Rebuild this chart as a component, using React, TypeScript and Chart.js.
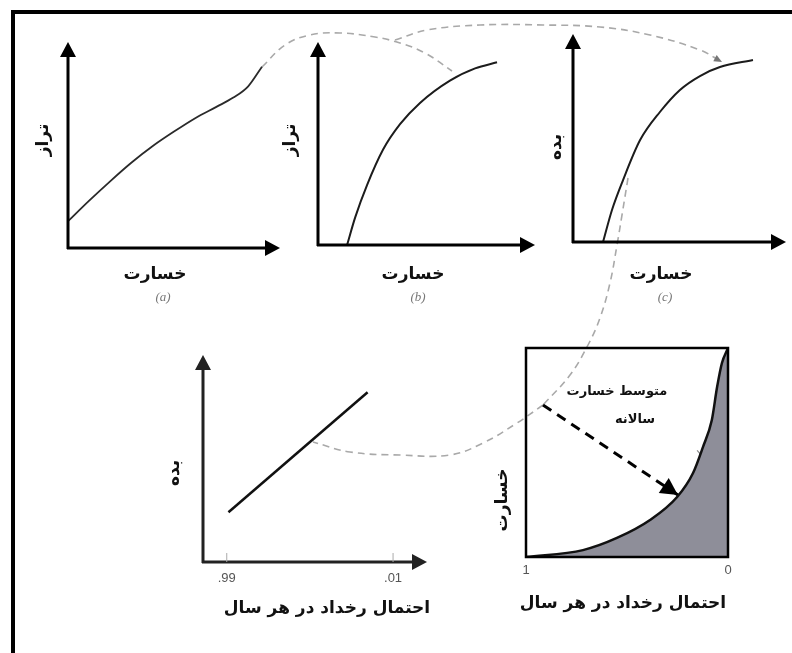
import React, { useEffect, useRef } from "react";
import { Chart, registerables } from "chart.js";

Chart.register(...registerables);

const W = 792;
const H = 653;

// ---------- Text ----------
const LOSS = "خسارت";
const STAGE = "تراز";
const FLOW = "بده";
const PROB = "احتمال رخداد در هر سال";
const EAD_LINE1 = "متوسط خسارت";
const EAD_LINE2 = "سالانه";

// ---------- Panel (a): stage vs damage ----------
const lossA = [0, 1, 2, 3, 4, 5, 6, 7, 7.8, 8.5, 9.15];
const stageA = [1.3, 2.3, 3.25, 4.15, 4.95, 5.65, 6.3, 6.85, 7.3, 7.85, 8.8];

// ---------- Panel (b): stage vs damage ----------
const lossB = [1.34, 1.71, 2.26, 3.0, 3.78, 4.7, 6.08, 7.24, 8.25];
const stageB = [0, 1.35, 2.95, 4.7, 5.95, 7.0, 8.1, 8.7, 9.0];

// ---------- Panel (c): discharge vs damage ----------
const lossC = [1.41, 1.83, 2.35, 3.15, 4.08, 5.02, 5.96, 6.9, 8.45];
const flowC = [0, 1.54, 2.98, 4.9, 6.25, 7.31, 7.98, 8.41, 8.75];

// ---------- Panel (d): discharge vs probability ----------
const probD = [0.98, 0.16];
const flowD = [2.4, 8.2];
const tickValsD = [0.99, 0.01];
const tickLabelsD = [".99", ".01"];

// ---------- Panel (e): damage vs probability ----------
const probE = [1.0, 0.718, 0.55, 0.386, 0.252, 0.173, 0.124, 0.08, 0.054, 0.03, 0];
const lossE = [0, 0.33, 0.91, 1.77, 2.87, 4.02, 5.26, 6.56, 8.13, 9.28, 10];
const tickValsE = [1, 0];
const tickLabelsE = ["1", "0"];
const meanArrowProb = [0.916, 0.248];
const meanArrowLoss = [7.27, 2.97];
const strayProb = [0.153, 0.054];
const strayLoss = [5.1, 4.0];

// ---------- Connectors (page units of the overlay chart) ----------
const conn1X = [262, 285, 310, 340, 375, 400, 425, 452];
const conn1Y = [67, 45, 35, 33, 37, 43, 53, 71];
const conn2X = [395, 427, 480, 543, 600, 650, 700, 722];
const conn2Y = [40, 30, 25, 25, 27, 35, 50, 62];
const conn3X = [628, 622, 617, 610, 600, 588, 570, 543];
const conn3Y = [178, 215, 245, 283, 318, 345, 375, 405];
const conn4X = [543, 517, 483, 450, 400, 350, 313];
const conn4Y = [405, 423, 443, 455, 455, 452, 442];

const pts = (xs: number[], ys: number[]) => xs.map((x, i) => ({ x, y: ys[i] }));

const FA = '"DejaVu Sans", sans-serif';
const BOLD17 = `bold 17px ${FA}`;
const SUBFONT = 'italic 13px "Liberation Serif", serif';

type TextSpec = {
  text: string;
  x: number;
  y: number;
  font: string;
  color?: string;
  rotate?: boolean;
  rtl?: boolean;
};

function drawText(ctx: CanvasRenderingContext2D, t: TextSpec) {
  ctx.save();
  ctx.font = t.font;
  ctx.fillStyle = t.color || "#111";
  ctx.textAlign = "center";
  ctx.textBaseline = "middle";
  (ctx as any).direction = t.rtl === false ? "ltr" : "rtl";
  ctx.translate(t.x, t.y);
  if (t.rotate) ctx.rotate(-Math.PI / 2);
  ctx.fillText(t.text, 0, 0);
  ctx.restore();
}

function arrowHead(
  ctx: CanvasRenderingContext2D,
  x1: number,
  y1: number,
  x2: number,
  y2: number,
  len: number,
  half: number,
  color: string
) {
  const a = Math.atan2(y2 - y1, x2 - x1);
  const bx = x2 - len * Math.cos(a);
  const by = y2 - len * Math.sin(a);
  const px = -Math.sin(a) * half;
  const py = Math.cos(a) * half;
  ctx.save();
  ctx.fillStyle = color;
  ctx.beginPath();
  ctx.moveTo(x2, y2);
  ctx.lineTo(bx + px, by + py);
  ctx.lineTo(bx - px, by - py);
  ctx.closePath();
  ctx.fill();
  ctx.restore();
}

type PanelSpec = {
  area: [number, number, number, number];
  x: { min: number; max: number; reverse?: boolean };
  y: { min: number; max: number };
  frame: "arrows" | "box";
  frameColor?: string;
  datasets: any[];
  texts: TextSpec[];
  ticks?: { values: number[]; labels: string[]; labelY: number; mark: boolean };
  extra?: (ctx: CanvasRenderingContext2D, chart: any) => void;
};

function panelConfig(p: PanelSpec): any {
  const [l, t, r, b] = p.area;
  const framePlugin = {
    id: "frame",
    afterDatasetsDraw(chart: any) {
      const ctx: CanvasRenderingContext2D = chart.ctx;
      const ca = chart.chartArea;
      const col = p.frameColor || "#000";
      ctx.save();
      if (p.frame === "arrows") {
        const len = 15;
        const half = 8;
        ctx.strokeStyle = col;
        ctx.lineWidth = 3;
        ctx.lineCap = "butt";
        ctx.beginPath();
        ctx.moveTo(ca.left - 1, ca.bottom);
        ctx.lineTo(ca.right - len + 2, ca.bottom);
        ctx.moveTo(ca.left, ca.bottom + 1);
        ctx.lineTo(ca.left, ca.top + len - 2);
        ctx.stroke();
        arrowHead(ctx, ca.left, ca.bottom, ca.right, ca.bottom, len, half, col);
        arrowHead(ctx, ca.left, ca.bottom, ca.left, ca.top, len, half, col);
      } else {
        ctx.strokeStyle = "#000";
        ctx.lineWidth = 2.5;
        ctx.strokeRect(ca.left, ca.top, ca.right - ca.left, ca.bottom - ca.top);
      }
      if (p.ticks) {
        const xs = chart.scales.x;
        p.ticks.values.forEach((v, i) => {
          const px = xs.getPixelForValue(v);
          if (p.ticks!.mark) {
            ctx.strokeStyle = "#aaa";
            ctx.lineWidth = 1;
            ctx.beginPath();
            ctx.moveTo(px, ca.bottom - 9);
            ctx.lineTo(px, ca.bottom);
            ctx.stroke();
          }
          drawText(ctx, {
            text: p.ticks!.labels[i],
            x: px,
            y: p.ticks!.labelY,
            font: '13px "Liberation Sans", Arial, sans-serif',
            color: "#555",
            rtl: false,
          });
        });
      }
      if (p.extra) p.extra(ctx, chart);
      p.texts.forEach((tx) => drawText(ctx, tx));
      ctx.restore();
    },
  };
  return {
    type: "scatter",
    data: { datasets: p.datasets },
    options: {
      animation: false,
      responsive: false,
      devicePixelRatio: 1,
      events: [],
      layout: { padding: { left: l, top: t, right: W - r, bottom: H - b } },
      plugins: { legend: { display: false }, tooltip: { enabled: false } },
      scales: {
        x: { type: "linear", display: false, min: p.x.min, max: p.x.max, reverse: !!p.x.reverse },
        y: { type: "linear", display: false, min: p.y.min, max: p.y.max },
      },
    },
    plugins: [framePlugin],
  };
}

const curve = (xs: number[], ys: number[], extra: any = {}) => ({
  data: pts(xs, ys),
  showLine: true,
  borderColor: "#1c1c1c",
  borderWidth: 2,
  pointRadius: 0,
  cubicInterpolationMode: "monotone",
  fill: false,
  ...extra,
});

const panelA = panelConfig({
  area: [68, 42, 280, 248],
  x: { min: 0, max: 10 },
  y: { min: 0, max: 10 },
  frame: "arrows",
  datasets: [curve(lossA, stageA, { borderColor: "#2a2a2a", borderWidth: 1.8 })],
  texts: [
    { text: LOSS, x: 155, y: 275, font: BOLD17 },
    { text: STAGE, x: 44, y: 140, font: BOLD17, rotate: true },
    { text: "(a)", x: 163, y: 298, font: SUBFONT, color: "#777", rtl: false },
  ],
});

const panelB = panelConfig({
  area: [318, 42, 535, 245],
  x: { min: 0, max: 10 },
  y: { min: 0, max: 10 },
  frame: "arrows",
  datasets: [curve(lossB, stageB)],
  texts: [
    { text: LOSS, x: 413, y: 275, font: BOLD17 },
    { text: STAGE, x: 291, y: 140, font: BOLD17, rotate: true },
    { text: "(b)", x: 418, y: 298, font: SUBFONT, color: "#777", rtl: false },
  ],
});

const panelC = panelConfig({
  area: [573, 34, 786, 242],
  x: { min: 0, max: 10 },
  y: { min: 0, max: 10 },
  frame: "arrows",
  datasets: [curve(lossC, flowC)],
  texts: [
    { text: LOSS, x: 661, y: 275, font: BOLD17 },
    { text: FLOW, x: 557, y: 147, font: BOLD17, rotate: true },
    { text: "(c)", x: 665, y: 298, font: SUBFONT, color: "#777", rtl: false },
  ],
});

const panelD = panelConfig({
  area: [203, 355, 427, 562],
  x: { min: -0.19, max: 1.13, reverse: true },
  y: { min: 0, max: 10 },
  frame: "arrows",
  frameColor: "#222",
  datasets: [curve(probD, flowD, { cubicInterpolationMode: "default", tension: 0, borderWidth: 2.5, borderColor: "#111" })],
  ticks: { values: tickValsD, labels: tickLabelsD, labelY: 578, mark: true },
  texts: [
    { text: PROB, x: 327, y: 609, font: BOLD17 },
    { text: FLOW, x: 175, y: 473, font: BOLD17, rotate: true },
  ],
});

const panelE = panelConfig({
  area: [526, 348, 728, 557],
  x: { min: 0, max: 1, reverse: true },
  y: { min: 0, max: 10 },
  frame: "box",
  datasets: [
    curve(probE, lossE, { fill: "origin", backgroundColor: "#8e8e99", borderWidth: 2.5, borderColor: "#111" }),
    {
      data: pts(strayProb, strayLoss),
      showLine: true,
      borderColor: "#8a8a8a",
      borderWidth: 1.2,
      pointRadius: 0,
      fill: false,
    },
    {
      data: pts(meanArrowProb, meanArrowLoss),
      showLine: true,
      borderColor: "#000",
      borderWidth: 3,
      borderDash: [10, 7],
      pointRadius: 0,
      fill: false,
    },
  ],
  ticks: { values: tickValsE, labels: tickLabelsE, labelY: 570, mark: false },
  extra: (ctx, chart) => {
    const xs = chart.scales.x;
    const ys = chart.scales.y;
    const x1 = xs.getPixelForValue(meanArrowProb[0]);
    const y1 = ys.getPixelForValue(meanArrowLoss[0]);
    const x2 = xs.getPixelForValue(meanArrowProb[1]);
    const y2 = ys.getPixelForValue(meanArrowLoss[1]);
    arrowHead(ctx, x1, y1, x2, y2, 17, 9, "#000");
  },
  texts: [
    { text: EAD_LINE1, x: 617, y: 392, font: `bold 13px ${FA}` },
    { text: EAD_LINE2, x: 635, y: 420, font: `bold 13px ${FA}` },
    { text: PROB, x: 623, y: 604, font: BOLD17 },
    { text: LOSS, x: 503, y: 500, font: BOLD17, rotate: true },
  ],
});

const dashed = (xs: number[], ys: number[]) => ({
  data: pts(xs, ys),
  showLine: true,
  borderColor: "#a9a9a9",
  borderWidth: 1.6,
  borderDash: [7, 5],
  pointRadius: 0,
  tension: 0.4,
  fill: false,
});

const overlay = {
  type: "scatter",
  data: {
    datasets: [dashed(conn1X, conn1Y), dashed(conn2X, conn2Y), dashed(conn3X, conn3Y), dashed(conn4X, conn4Y)],
  },
  options: {
    animation: false,
    responsive: false,
    devicePixelRatio: 1,
    events: [],
    layout: { padding: 0 },
    plugins: { legend: { display: false }, tooltip: { enabled: false } },
    scales: {
      x: { type: "linear", display: false, min: 0, max: W },
      y: { type: "linear", display: false, min: 0, max: H, reverse: true },
    },
  },
  plugins: [
    {
      id: "overlayDecor",
      afterDatasetsDraw(chart: any) {
        const ctx: CanvasRenderingContext2D = chart.ctx;
        const xs = chart.scales.x;
        const ys = chart.scales.y;
        const n = conn2X.length;
        arrowHead(
          ctx,
          xs.getPixelForValue(conn2X[n - 2]),
          ys.getPixelForValue(conn2Y[n - 2]),
          xs.getPixelForValue(conn2X[n - 1]),
          ys.getPixelForValue(conn2Y[n - 1]),
          8,
          3.5,
          "#777"
        );
        ctx.save();
        ctx.fillStyle = "#000";
        ctx.fillRect(11, 10, W - 11, 4);
        ctx.fillRect(11, 10, 4, H - 10);
        ctx.restore();
      },
    },
  ],
};

const configs = [overlay, panelA, panelB, panelC, panelD, panelE];

export default function App() {
  const refs = useRef<(HTMLCanvasElement | null)[]>([]);
  useEffect(() => {
    const charts = configs.map((c, i) => new Chart(refs.current[i] as HTMLCanvasElement, c as any));
    return () => charts.forEach((ch) => ch.destroy());
  }, []);
  return (
    <div
      style={{
        position: "fixed",
        left: 0,
        top: 0,
        width: W,
        height: H,
        background: "#fff",
        overflow: "hidden",
      }}
    >
      {configs.map((_, i) => (
        <canvas
          key={i}
          ref={(el) => {
            refs.current[i] = el;
          }}
          width={W}
          height={H}
          style={{ position: "absolute", left: 0, top: 0, width: W, height: H }}
        />
      ))}
    </div>
  );
}
